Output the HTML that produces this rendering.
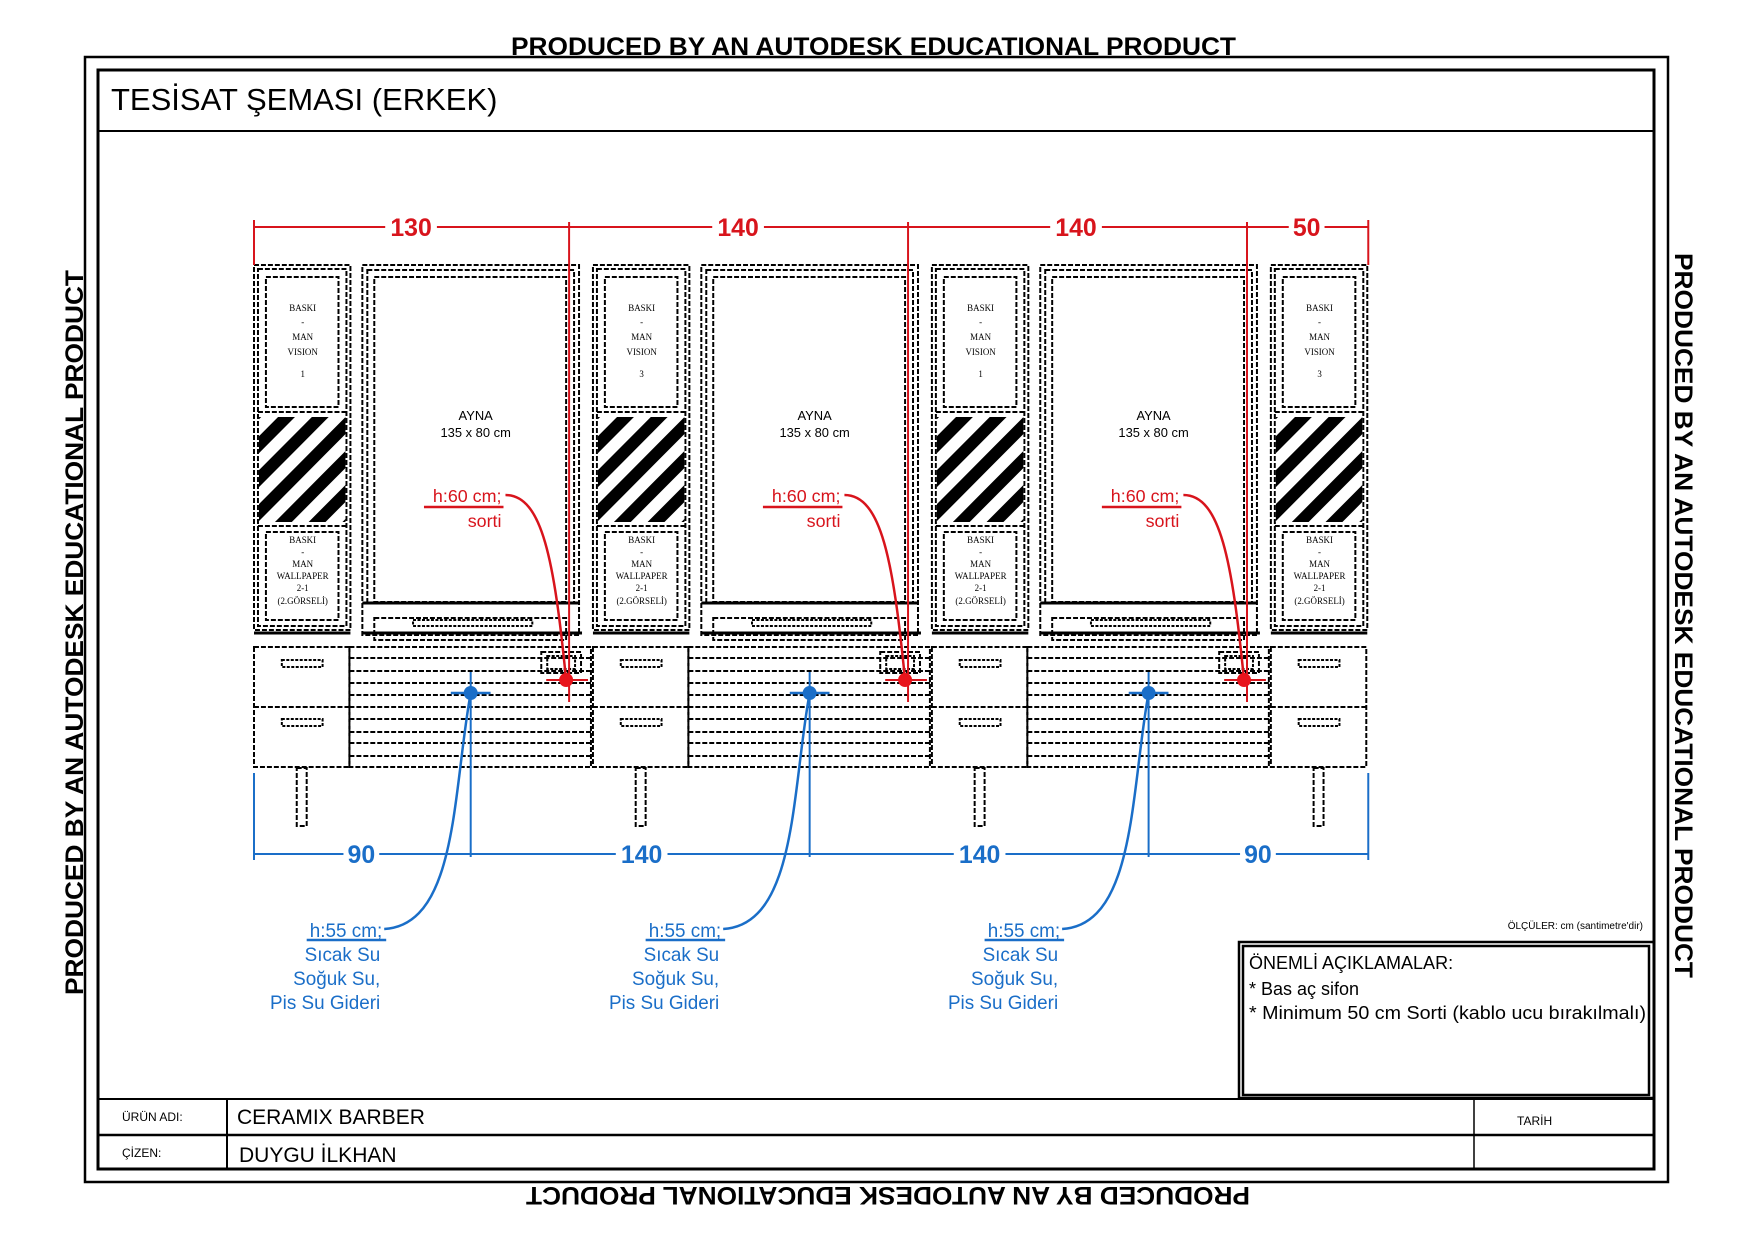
<!DOCTYPE html>
<html><head><meta charset="utf-8"><style>
html,body{margin:0;padding:0;background:#fff;}
svg{display:block;}
</style></head><body>
<svg width="1754" height="1240" viewBox="0 0 1754 1240" xmlns="http://www.w3.org/2000/svg" font-family="Liberation Sans, sans-serif">
<defs>
<pattern id="str" patternUnits="userSpaceOnUse" width="24" height="24" patternTransform="rotate(45)">
<rect x="0" y="0" width="24" height="24" fill="#fff"/>
<rect x="0" y="0" width="12" height="24" fill="#000"/>
</pattern>
<g id="narrow" fill="none" stroke="#000" stroke-width="2" stroke-dasharray="5 2">
<rect x="0" y="265" width="97" height="365"/>
<rect x="4" y="269" width="89" height="357"/>
<rect x="12" y="277" width="73" height="130"/>
<rect x="12" y="532" width="73" height="88"/>
<line x1="4" y1="412" x2="93" y2="412"/>
<line x1="4" y1="526" x2="93" y2="526"/>
<rect x="5" y="417" width="87" height="105" fill="url(#str)" stroke="none"/>
<line x1="0" y1="633" x2="97" y2="633" stroke-dasharray="none" stroke-width="3"/>
<rect x="0" y="647" width="96" height="120"/>
<line x1="0" y1="707" x2="96" y2="707"/>
<rect x="28" y="660" width="41" height="7" stroke-dasharray="3 1.5"/>
<rect x="28" y="719" width="41" height="7" stroke-dasharray="3 1.5"/>
<rect x="43" y="768" width="10" height="58"/>
</g>
<g id="mod" fill="none" stroke="#000" stroke-width="2" stroke-dasharray="5 2">
<use href="#narrow"/>
<rect x="109" y="265" width="218" height="370"/>
<rect x="114" y="270" width="208" height="333"/>
<rect x="121" y="277" width="193" height="325"/>
<line x1="109" y1="603" x2="327" y2="603" stroke-dasharray="none" stroke-width="3"/>
<line x1="109" y1="633" x2="330" y2="633" stroke-dasharray="none" stroke-width="3"/>
<rect x="121" y="618" width="193" height="22"/>
<rect x="160" y="620" width="120" height="6" stroke-dasharray="3 1.5"/>
<rect x="96" y="647" width="243" height="120"/>
<line x1="96" y1="658" x2="339" y2="658"/>
<line x1="96" y1="671" x2="339" y2="671"/>
<line x1="96" y1="683" x2="339" y2="683"/>
<line x1="96" y1="695" x2="339" y2="695"/>
<line x1="96" y1="707" x2="339" y2="707"/>
<line x1="96" y1="719" x2="339" y2="719"/>
<line x1="96" y1="732" x2="339" y2="732"/>
<line x1="96" y1="743" x2="339" y2="743"/>
<line x1="96" y1="756" x2="339" y2="756"/>
<rect x="289" y="652" width="40" height="21"/>
<rect x="295" y="656" width="28" height="13" stroke-dasharray="3 1.5"/>
</g>
<g id="redm">
<line x1="317" y1="222" x2="317" y2="702" stroke="#d8141c" stroke-width="2"/>
<line x1="294" y1="680" x2="336" y2="680" stroke="#d8141c" stroke-width="2"/>
<path d="M253,495 C290,495 302,560 314,680" fill="none" stroke="#d8141c" stroke-width="2.5"/>
<circle cx="314" cy="680" r="7" fill="#e8141c"/>
<line x1="171" y1="507" x2="251" y2="507" stroke="#d8141c" stroke-width="2.5"/>
<line x1="218" y1="672" x2="218" y2="857" stroke="#1a6ec8" stroke-width="2"/>
<line x1="198" y1="693" x2="238" y2="693" stroke="#1a6ec8" stroke-width="2.5"/>
<path d="M131,929 C205,925 200,790 218,693" fill="none" stroke="#1a6ec8" stroke-width="2.5"/>
<circle cx="218" cy="693" r="7" fill="#1a6ec8"/>
<line x1="53" y1="940" x2="133" y2="940" stroke="#1a6ec8" stroke-width="2.5"/>
</g>
</defs>

<!-- frames -->
<rect x="85" y="57" width="1583" height="1125" fill="none" stroke="#000" stroke-width="2.5"/>
<rect x="98" y="70" width="1556" height="1099" fill="none" stroke="#000" stroke-width="3"/>
<line x1="98" y1="131" x2="1654" y2="131" stroke="#000" stroke-width="2"/>
<text x="111" y="110" font-size="31">TESİSAT ŞEMASI (ERKEK)</text>

<text x="511" y="55" font-size="25" font-weight="bold" textLength="725" lengthAdjust="spacingAndGlyphs">PRODUCED BY AN AUTODESK EDUCATIONAL PRODUCT</text>
<text transform="translate(1250,1187) rotate(180)" font-size="25" font-weight="bold" textLength="724" lengthAdjust="spacingAndGlyphs">PRODUCED BY AN AUTODESK EDUCATIONAL PRODUCT</text>
<text transform="translate(83,995) rotate(-90)" font-size="25" font-weight="bold" textLength="725" lengthAdjust="spacingAndGlyphs">PRODUCED BY AN AUTODESK EDUCATIONAL PRODUCT</text>
<text transform="translate(1675,253) rotate(90)" font-size="25" font-weight="bold" textLength="725" lengthAdjust="spacingAndGlyphs">PRODUCED BY AN AUTODESK EDUCATIONAL PRODUCT</text>

<g transform="translate(254,0) scale(0.994,1) translate(-254,0)">
<!-- modules -->
<use href="#mod" x="254"/>
<use href="#mod" x="595"/>
<use href="#mod" x="936"/>
<use href="#narrow" x="1277"/>
<use href="#redm" x="254"/>
<use href="#redm" x="595"/>
<use href="#redm" x="936"/>

<!-- narrow col labels -->
<g font-family="Liberation Serif, serif" font-size="9" text-anchor="middle">
<text x="303" y="311">BASKI</text><text x="303" y="325">-</text><text x="303" y="340">MAN</text><text x="303" y="355">VISION</text><text x="303" y="377">1</text>
<text x="303" y="543">BASKI</text><text x="303" y="555">-</text><text x="303" y="567">MAN</text><text x="303" y="579">WALLPAPER</text><text x="303" y="591">2-1</text><text x="303" y="604">(2.GÖRSELİ)</text>
<text x="644" y="311">BASKI</text><text x="644" y="325">-</text><text x="644" y="340">MAN</text><text x="644" y="355">VISION</text><text x="644" y="377">3</text>
<text x="644" y="543">BASKI</text><text x="644" y="555">-</text><text x="644" y="567">MAN</text><text x="644" y="579">WALLPAPER</text><text x="644" y="591">2-1</text><text x="644" y="604">(2.GÖRSELİ)</text>
<text x="985" y="311">BASKI</text><text x="985" y="325">-</text><text x="985" y="340">MAN</text><text x="985" y="355">VISION</text><text x="985" y="377">1</text>
<text x="985" y="543">BASKI</text><text x="985" y="555">-</text><text x="985" y="567">MAN</text><text x="985" y="579">WALLPAPER</text><text x="985" y="591">2-1</text><text x="985" y="604">(2.GÖRSELİ)</text>
<text x="1326" y="311">BASKI</text><text x="1326" y="325">-</text><text x="1326" y="340">MAN</text><text x="1326" y="355">VISION</text><text x="1326" y="377">3</text>
<text x="1326" y="543">BASKI</text><text x="1326" y="555">-</text><text x="1326" y="567">MAN</text><text x="1326" y="579">WALLPAPER</text><text x="1326" y="591">2-1</text><text x="1326" y="604">(2.GÖRSELİ)</text>
</g>

<!-- mirror labels -->
<g font-size="13" text-anchor="middle">
<text x="477" y="420">AYNA</text><text x="477" y="437">135 x 80 cm</text>
<text x="818" y="420">AYNA</text><text x="818" y="437">135 x 80 cm</text>
<text x="1159" y="420">AYNA</text><text x="1159" y="437">135 x 80 cm</text>
</g>
<g font-size="18" fill="#d8141c" text-anchor="end">
<text x="503" y="502">h:60 cm;</text><text x="503" y="527">sorti</text>
<text x="844" y="502">h:60 cm;</text><text x="844" y="527">sorti</text>
<text x="1185" y="502">h:60 cm;</text><text x="1185" y="527">sorti</text>
</g>
<g font-size="19" fill="#1a6ec8" text-anchor="end">
<text x="383" y="937">h:55 cm;</text><text x="381" y="961">Sıcak Su</text><text x="381" y="985">Soğuk Su,</text><text x="381" y="1009">Pis Su Gideri</text>
<text x="724" y="937">h:55 cm;</text><text x="722" y="961">Sıcak Su</text><text x="722" y="985">Soğuk Su,</text><text x="722" y="1009">Pis Su Gideri</text>
<text x="1065" y="937">h:55 cm;</text><text x="1063" y="961">Sıcak Su</text><text x="1063" y="985">Soğuk Su,</text><text x="1063" y="1009">Pis Su Gideri</text>
</g>

<!-- red dimension -->
<g stroke="#d8141c" stroke-width="2">
<line x1="254" y1="227" x2="1375" y2="227"/>
<line x1="254" y1="220" x2="254" y2="265"/>
<line x1="1375" y1="220" x2="1375" y2="265"/>
</g>
<g font-size="25" fill="#d8141c" text-anchor="middle" font-weight="bold">
<rect x="386" y="212" width="52" height="30" fill="#fff"/><text x="412" y="236">130</text>
<rect x="715" y="212" width="52" height="30" fill="#fff"/><text x="741" y="236">140</text>
<rect x="1055" y="212" width="52" height="30" fill="#fff"/><text x="1081" y="236">140</text>
<rect x="1295" y="212" width="36" height="30" fill="#fff"/><text x="1313" y="236">50</text>
</g>
<!-- blue dimension -->
<g stroke="#1a6ec8" stroke-width="2">
<line x1="254" y1="854" x2="1375" y2="854"/>
<line x1="254" y1="773" x2="254" y2="860"/>
<line x1="1375" y1="773" x2="1375" y2="860"/>
</g>
<g font-size="25" fill="#1a6ec8" text-anchor="middle" font-weight="bold">
<rect x="344" y="840" width="36" height="30" fill="#fff"/><text x="362" y="863">90</text>
<rect x="618" y="840" width="52" height="30" fill="#fff"/><text x="644" y="863">140</text>
<rect x="958" y="840" width="52" height="30" fill="#fff"/><text x="984" y="863">140</text>
<rect x="1246" y="840" width="36" height="30" fill="#fff"/><text x="1264" y="863">90</text>
</g>
</g>

<!-- notes -->
<text x="1643" y="929" font-size="10" text-anchor="end">ÖLÇÜLER: cm (santimetre'dir)</text>
<rect x="1239" y="942" width="415" height="156" fill="none" stroke="#000" stroke-width="2.5"/>
<rect x="1243" y="946" width="406" height="149" fill="none" stroke="#000" stroke-width="2.5"/>
<text x="1249" y="969" font-size="18">ÖNEMLİ AÇIKLAMALAR:</text>
<text x="1249" y="995" font-size="18">* Bas aç sifon</text>
<text x="1249" y="1019" font-size="18" textLength="397" lengthAdjust="spacingAndGlyphs">* Minimum 50 cm Sorti (kablo ucu bırakılmalı)</text>

<!-- title block -->
<line x1="98" y1="1099" x2="1654" y2="1099" stroke="#000" stroke-width="2"/>
<line x1="98" y1="1135" x2="1654" y2="1135" stroke="#000" stroke-width="2.5"/>
<line x1="227" y1="1099" x2="227" y2="1169" stroke="#000" stroke-width="2"/>
<line x1="1474" y1="1099" x2="1474" y2="1169" stroke="#000" stroke-width="1.5"/>
<text x="122" y="1121" font-size="12">ÜRÜN ADI:</text>
<text x="122" y="1157" font-size="12">ÇİZEN:</text>
<text x="237" y="1124" font-size="21">CERAMIX BARBER</text>
<text x="239" y="1162" font-size="21">DUYGU İLKHAN</text>
<text x="1517" y="1125" font-size="12">TARİH</text>
</svg>
</body></html>
